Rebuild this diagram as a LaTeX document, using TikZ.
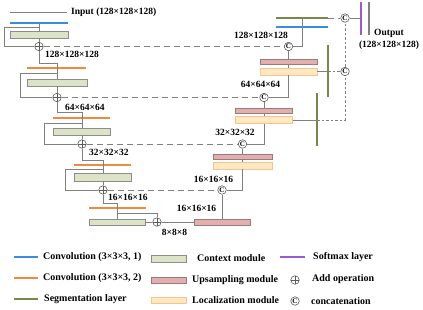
\documentclass[tikz,border=0pt]{standalone}
\usepackage{fontspec}
\setmainfont{Liberation Serif}
\usetikzlibrary{positioning}
\definecolor{linegray}{HTML}{808080}
\definecolor{convblue}{HTML}{3A8DDE}
\definecolor{convorange}{HTML}{F08A3C}
\definecolor{seggreen}{HTML}{76884A}
\definecolor{softpurple}{HTML}{9B59D6}
\definecolor{ctxfill}{HTML}{DCE3C6}
\definecolor{ctxdraw}{HTML}{8C8C8C}
\definecolor{upsfill}{HTML}{E3AEAE}
\definecolor{upsdraw}{HTML}{9A7A7A}
\definecolor{locfill}{HTML}{FFE8C2}
\definecolor{locdraw}{HTML}{F6C58E}

\begin{document}
\begin{tikzpicture}[x=1pt, y=-1pt,
  wire/.style={draw=linegray, line width=0.7pt},
  skipline/.style={draw=linegray, line width=0.8pt, dash pattern=on 6pt off 4pt},
  sideline/.style={draw=linegray, line width=0.7pt, dash pattern=on 2.5pt off 2pt},
  convone/.style={draw=convblue, line width=1.3pt},
  convtwo/.style={draw=convorange, line width=1.3pt},
  segline/.style={draw=seggreen, line width=1.3pt},
  softline/.style={draw=softpurple, line width=1.3pt},
  ctxbox/.style={rectangle, draw=ctxdraw, fill=ctxfill, line width=0.7pt, inner sep=0, minimum width=57, minimum height=7},
  upsbox/.style={rectangle, draw=upsdraw, fill=upsfill, line width=0.7pt, inner sep=0, minimum width=57, minimum height=5},
  locbox/.style={rectangle, draw=locdraw, fill=locfill, line width=0.7pt, inner sep=0, minimum width=57, minimum height=7},
  addop/.style={circle, draw=linegray!70!black, fill=white, line width=0.6pt, inner sep=0, minimum size=8.5,
    path picture={\draw[linegray!70!black, line width=0.5pt] (path picture bounding box.north) -- (path picture bounding box.south)
      (path picture bounding box.west) -- (path picture bounding box.east);}},
  concat/.style={circle, draw=linegray!70!black, fill=white, line width=0.6pt, inner sep=0, minimum size=8.5,
    font=\fontsize{7}{7}\selectfont\bfseries},
  dim/.style={font=\fontsize{9.5}{11}\selectfont\bfseries, inner sep=0},
  legend/.style={font=\fontsize{10}{12}\selectfont\bfseries, inner sep=0, anchor=west}
]
\useasboundingbox (0,0) rectangle (423,310);

% contracting path
\draw[linegray, line width=0.9pt] (10,12) -- (67,12);
\node[dim, anchor=west] (inlbl) at (71,12) {Input (128×128×128)};
\draw[convone] (10,23) -- (68,23);
\coordinate (in1) at (39,23);
\coordinate (br1) at (39,27);
\node[ctxbox, minimum width=58] (ctx1) at (39,34.5) {};
\node[addop] (add1) at (39,46.5) {};
\draw[wire] (in1) -- (ctx1);
\draw[wire] (ctx1) -- (add1);
\draw[wire] (br1) -- (4,27) |- (add1);
\node[dim, anchor=west] (d1) at (45,54) {128×128×128};

\draw[convtwo] (27,68) -- (86,68);
\node[ctxbox, minimum width=60] (ctx2) at (57,82.5) {};
\node[addop] (add2) at (57,97.5) {};
\coordinate (br2) at (57,73);
\draw[wire] (add1) |- (57,63) -- (ctx2);
\draw[wire] (ctx2) -- (add2);
\draw[wire] (br2) -- (20,73) |- (add2);
\node[dim, anchor=west] (d2) at (65,107) {64×64×64};

\draw[convtwo] (53,118) -- (110,118);
\node[ctxbox] (ctx3) at (82,131.5) {};
\node[addop] (add3) at (82,144) {};
\coordinate (br3) at (82,123);
\draw[wire] (add2) |- (82,112) -- (ctx3);
\draw[wire] (ctx3) -- (add3);
\draw[wire] (br3) -- (44,123) |- (add3);
\node[dim, anchor=west] (d3) at (89,152) {32×32×32};

\draw[convtwo] (74,165) -- (131,165);
\node[ctxbox, minimum height=8] (ctx4) at (103,177) {};
\node[addop] (add4) at (103,190) {};
\coordinate (br4) at (103,169);
\draw[wire] (add3) |- (103,160) -- (ctx4);
\draw[wire] (ctx4) -- (add4);
\draw[wire] (br4) -- (65,169) |- (add4);
\node[dim, anchor=west] (d4) at (108,197) {16×16×16};

\draw[convtwo] (89,208) -- (146,208);
\node[ctxbox, minimum width=56, minimum height=6] (ctx5) at (117,222) {};
\node[addop] (add5) at (157,222) {};
\coordinate (br5) at (117,213);
\draw[wire] (add4) |- (117,203) -- (ctx5);
\draw[wire] (br5) -| (add5);
\draw[wire] (ctx5) -- (add5);
\node[upsbox, minimum width=56, minimum height=6] (ups5) at (222,222) {};
\draw[wire] (add5) -- (ups5);
\node[dim] (d5) at (174.5,232) {8×8×8};
\node[dim] (d6) at (196.5,208) {16×16×16};

% expanding path
\node[concat] (cat4) at (222,190) {C};
\draw[wire] (ups5) -- (cat4);
\draw[skipline] (add4) -- (cat4);
\node[dim] (d7) at (213.5,179) {16×16×16};
\node[upsbox, minimum width=59, minimum height=4.5] (ups4) at (242.5,157) {};
\node[locbox, minimum width=59] (loc4) at (242.5,165.5) {};
\draw[wire] (cat4) -| (loc4);
\draw[wire] (loc4) -- (ups4);

\node[concat] (cat3) at (242.5,144) {C};
\draw[wire] (ups4) -- (cat3);
\draw[skipline] (add3) -- (cat3);
\node[dim] (d8) at (235,132) {32×32×32};
\node[upsbox] (ups3) at (264,111) {};
\node[locbox, minimum height=6.5] (loc3) at (264,120) {};
\draw[wire] (cat3) -| (loc3);
\draw[wire] (loc3) -- (ups3);

\node[concat] (cat2) at (264,97.5) {C};
\draw[wire] (ups3) -- (cat2);
\draw[skipline] (add2) -- (cat2);
\node[dim] (d9) at (260.5,84) {64×64×64};
\node[upsbox] (ups2) at (288.5,62) {};
\node[locbox] (loc2) at (288.5,71.5) {};
\draw[wire] (cat2) -| (loc2);
\draw[wire] (loc2) -- (ups2);

\node[concat] (cat1) at (288.5,46.5) {C};
\draw[wire] (ups2) -- (cat1);
\draw[skipline] (add1) -- (cat1);
\node[dim] (d10) at (261,35) {128×128×128};
\coordinate (top) at (302,18);
\draw[wire] (cat1) -| (top);
\draw[convone] (276,27) -- (328,27);
\draw[segline] (276,18) -- (328,18);

% segmentation outputs
\coordinate (seg1) at (328,18);
\coordinate (seg2) at (328,71.5);
\coordinate (seg3) at (317,120);
\node[concat] (catT) at (345,18) {C};
\node[concat] (catS) at (345,71.5) {C};
\draw[wire] (loc2) -- (seg2);
\draw[wire] (loc3) -- (seg3);
\draw[segline] (328,45) -- (328,97);
\draw[segline] (317,93) -- (317,146);
\draw[skipline] (seg1) -- (catT);
\draw[sideline] (seg2) -- (catS);
\draw[sideline] (seg3) -| (catS);
\draw[sideline] (catS) -- (catT);
\coordinate (soft) at (361,18);
\draw[wire] (catT) -- (soft);
\draw[softline] (361,2) -- (361,35);
\draw[linegray, line width=1.2pt] (369,2) -- (369,35);
\node[dim] (outlbl) at (389,33) {Output};
\node[dim] (outsz) at (389,45) {(128×128×128)};

% legend
\draw[convone] (14,257) -- (38,257);
\node[legend] (l1) at (43,257) {Convolution (3×3×3, 1)};
\draw[convtwo] (14,278) -- (38,278);
\node[legend] (l2) at (43,278.5) {Convolution (3×3×3, 2)};
\draw[segline] (14,299) -- (38,299);
\node[legend] (l3) at (44,299.5) {Segmentation layer};

\node[ctxbox, minimum width=35] (lctx) at (168.5,258.5) {};
\node[legend] (l4) at (197,258) {Context module};
\node[upsbox, minimum width=35, minimum height=6] (lups) at (168.5,280) {};
\node[legend] (l5) at (192,280) {Upsampling module};
\node[locbox, minimum width=35, minimum height=6] (lloc) at (168.5,300) {};
\node[legend] (l6) at (192,300) {Localization module};

\draw[softline] (280,257) -- (305,257);
\node[legend] (l7) at (313,257) {Softmax layer};
\node[addop] (ladd) at (295,280) {};
\node[legend] (l8) at (312,279) {Add operation};
\node[concat] (lcat) at (295,301) {C};
\node[legend] (l9) at (311,301) {concatenation};
\end{tikzpicture}
\end{document}
